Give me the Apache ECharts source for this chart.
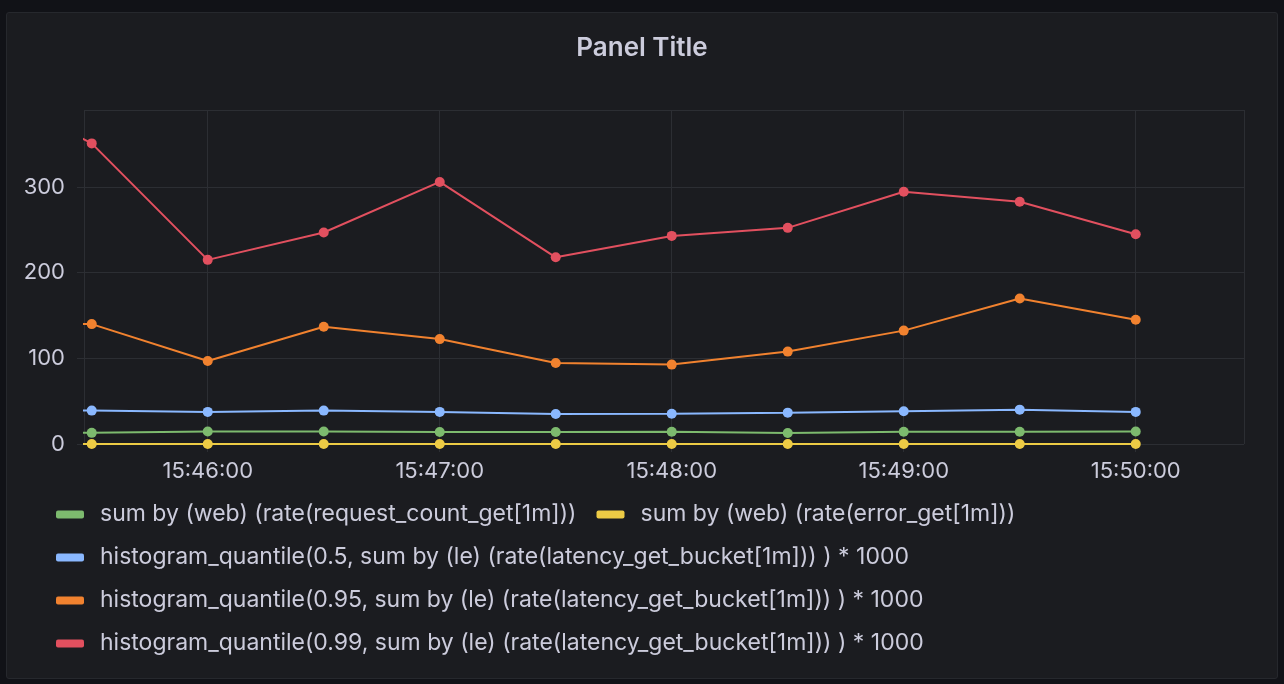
<!DOCTYPE html>
<html>
<head>
<meta charset="utf-8">
<script src="https://cdn.jsdelivr.net/npm/echarts@6/dist/echarts.min.js"></script>
<style>
  html, body { margin: 0; padding: 0; width: 1284px; height: 684px; background: #111217; overflow: hidden; }
  #panel { position: absolute; left: 6px; top: 12px; width: 1270px; height: 665px; background: #1b1c20; border: 1px solid #26282d; border-radius: 3px; }
  #chart { position: absolute; left: 0; top: 0; width: 1284px; height: 684px; }
</style>
</head>
<body>
<div id="panel"></div>
<div id="chart"></div>
<script>
// ---- data ----
const times = ["15:45:00","15:45:30","15:46:00","15:46:30","15:47:00","15:47:30","15:48:00","15:48:30","15:49:00","15:49:30","15:50:00"];
const requestCount = [13, 13, 14.5, 14.5, 14, 14, 14.4, 12.9, 14.4, 14.4, 14.5];
const errorRate    = [0, 0, 0, 0, 0, 0, 0, 0, 0, 0, 0];
const p50          = [39, 39, 37.5, 39, 37.5, 35, 35.4, 36.6, 38.2, 40.1, 37.5];
const p95          = [141, 140, 97, 137, 122.5, 94.5, 92.7, 107.9, 132.4, 169.8, 145];
const p99          = [421, 351, 215, 247, 306, 218, 243, 252.4, 294.5, 282.8, 245];
const seriesNames = [
  "sum by (web) (rate(request_count_get[1m]))",
  "sum by (web) (rate(error_get[1m]))",
  "histogram_quantile(0.5, sum by (le) (rate(latency_get_bucket[1m])) ) * 1000",
  "histogram_quantile(0.95, sum by (le) (rate(latency_get_bucket[1m])) ) * 1000",
  "histogram_quantile(0.99, sum by (le) (rate(latency_get_bucket[1m])) ) * 1000"
];
const xStart = "15:45:28";
const xEnd = "15:50:28";
const yTicks = [0, 100, 200, 300];

// ---- helpers ----
function toTs(s) {
  const p = s.split(":").map(Number);
  return new Date(2023, 0, 1, p[0], p[1], p[2]).getTime();
}
function pad(n) { return (n < 10 ? "0" : "") + n; }
function fmt(v) {
  const d = new Date(v);
  return pad(d.getHours()) + ":" + pad(d.getMinutes()) + ":" + pad(d.getSeconds());
}

const colors = ["#7DBA6E", "#EDCB45", "#8AB8FF", "#F1822F", "#E2505F"];
const values = [requestCount, errorRate, p50, p95, p99];
const textColor = "#ccccdc";
const gridColor = "#2c2e33";
const font = "Inter, Roboto, 'Noto Sans', sans-serif";

const chart = echarts.init(document.getElementById("chart"), null, { renderer: "canvas" });
chart.setOption({
  backgroundColor: "transparent",
  animation: false,
  title: {
    text: "Panel Title",
    left: "center",
    top: 30,
    textStyle: { color: textColor, fontSize: 26, fontWeight: 600, fontFamily: font }
  },
  grid: { left: 84, right: 40, top: 110, bottom: 240, containLabel: false },
  xAxis: {
    type: "time",
    min: toTs(xStart),
    max: toTs(xEnd),
    minInterval: 60000,
    maxInterval: 60000,
    axisLine: { show: false },
    axisTick: { show: true, length: 8, lineStyle: { color: gridColor, width: 1 } },
    splitLine: { show: true, lineStyle: { color: gridColor, width: 1 } },
    axisLabel: {
      color: textColor, fontSize: 22, fontFamily: font, margin: 16,
      formatter: function (v) { return fmt(v); },
      showMinLabel: false, showMaxLabel: false
    }
  },
  yAxis: {
    type: "value",
    min: yTicks[0],
    max: 390,
    interval: yTicks[1] - yTicks[0],
    axisLine: { show: false },
    axisTick: { show: true, length: 7, lineStyle: { color: gridColor, width: 1 } },
    splitLine: { show: true, lineStyle: { color: gridColor, width: 1 } },
    axisLabel: {
      color: textColor, fontSize: 22, fontFamily: font, margin: 19,
      showMaxLabel: false
    }
  },
  legend: {
    left: 56,
    top: 503,
    width: 1180,
    padding: 0,
    itemGap: 20,
    itemWidth: 28,
    itemHeight: 8,
    icon: "roundRect",
    textStyle: { color: textColor, fontSize: 23, fontFamily: font, lineHeight: 21, padding: [0, 0, 0, 11] },
    data: seriesNames
  },
  series: seriesNames.map(function (name, i) {
    return {
      name: name,
      type: "line",
      data: times.map(function (t, j) { return [toTs(t), values[i][j]]; }),
      color: colors[i],
      lineStyle: { width: 2, color: colors[i] },
      itemStyle: { color: colors[i] },
      symbol: "circle",
      symbolSize: 10,
      showSymbol: true,
      clip: true,
      z: 2 + i
    };
  })
});
</script>
</body>
</html>
